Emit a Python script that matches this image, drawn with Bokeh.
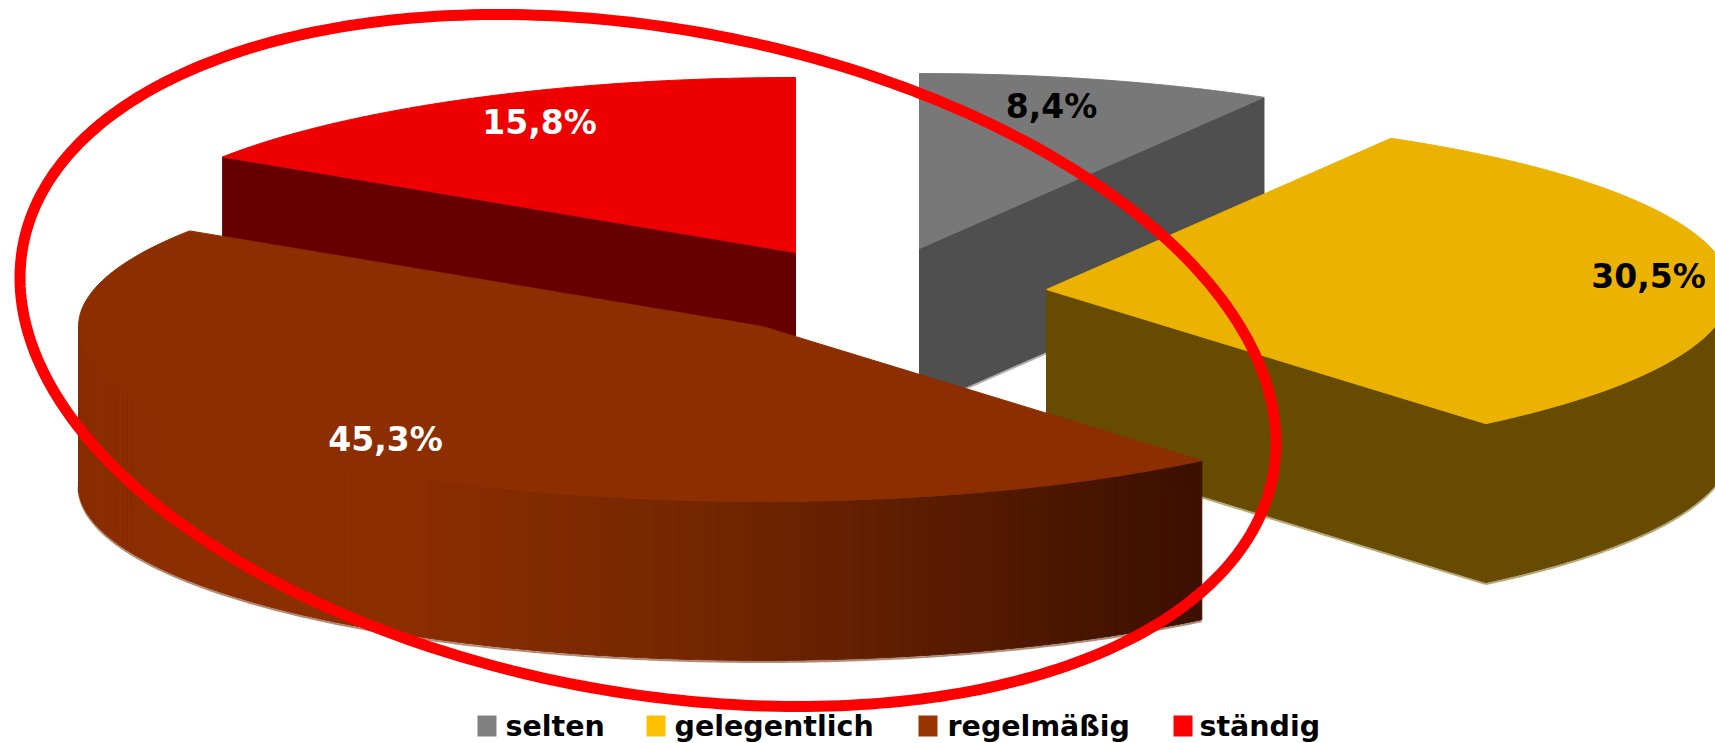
import numpy as np
from bokeh.plotting import figure
from bokeh.models import Range1d
from bokeh.core.properties import value
from bokeh.embed import file_html
from bokeh.resources import INLINE

# --- data ---
CATEGORIES = ["selten", "gelegentlich", "regelmäßig", "ständig"]
VALUES = [8.4, 30.5, 45.3, 15.8]
LABELS = ["8,4%", "30,5%", "45,3%", "15,8%"]
LEGEND_COLORS = ["#808080", "#FFC000", "#993300", "#FF0000"]
TOP_COLORS = ["#787878", "#ECB200", "#8C2E00", "#EE0000"]
SIDE_COLORS = ["#4F4F4F", "#664B00", "#8C2E00", "#660000"]
EDGE_COLORS = ["#B0B0B0", "#B8A878", "#B08C78", "#660000"]
LABEL_COLORS = ["black", "black", "white", "white"]

# --- layout (reference pixels) ---
W, H = 1715, 743
A, B, DEPTH = 684, 175, 159
CENTERS = [(919, 248), (1046, 289), (762, 326), (795, 252)]
LABEL_POS = [(1051, 106), (1648, 276), (385, 439), (539, 122)]
LEGEND_SWATCH_X = [477, 646, 918, 1173]
LEGEND_TEXT_X = [505, 674, 947, 1199]
FONT = "DejaVu Sans"

p = figure(width=W, height=H, output_backend="svg", toolbar_location=None,
           x_range=Range1d(0, W), y_range=Range1d(H, 0), min_border=0,
           outline_line_color=None, background_fill_color="white")
p.axis.visible = False
p.grid.visible = False

fractions = np.array(VALUES) / 100.0
ends = np.cumsum(fractions) * 2 * np.pi
starts = ends - fractions * 2 * np.pi
ends[-1] = 2 * np.pi


def arc(i, t0, t1, n=120):
    t = np.linspace(t0, t1, n)
    cx, cy = CENTERS[i]
    return cx + A * np.sin(t), cy - B * np.cos(t)


def point(i, t):
    cx, cy = CENTERS[i]
    return cx + A * np.sin(t), cy - B * np.cos(t)


def top_face(i):
    x, y = arc(i, starts[i], ends[i])
    cx, cy = CENTERS[i]
    p.patch(np.r_[cx, x], np.r_[cy, y], fill_color=TOP_COLORS[i], line_color=TOP_COLORS[i], line_width=1)


def cut_face(i, t):
    cx, cy = CENTERS[i]
    x1, y1 = point(i, t)
    p.line([cx, x1], [cy + DEPTH + 1.5, y1 + DEPTH + 1.5], line_color=EDGE_COLORS[i], line_width=2)
    p.patch([cx, x1, x1, cx], [cy, y1, y1 + DEPTH, cy + DEPTH],
            fill_color=SIDE_COLORS[i], line_color=SIDE_COLORS[i], line_width=1)


def outer_wall(i, t0, t1):
    x, y = arc(i, t0, t1)
    p.line(x, y + DEPTH + 1.5, line_color=EDGE_COLORS[i], line_width=2)
    p.patch(np.r_[x, x[::-1]], np.r_[y, y[::-1] + DEPTH],
            fill_color=SIDE_COLORS[i], line_color=SIDE_COLORS[i], line_width=1)


def shade(tt):
    keys = [0.0, 0.06, 0.30, 0.60, 0.80, 1.0]
    r = [0x8A, 0x8C, 0x8B, 0x70, 0x55, 0x3C]
    g = [0x2D, 0x2E, 0x2E, 0x25, 0x1A, 0x10]
    return "#%02x%02x00" % (int(np.interp(tt, keys, r)), int(np.interp(tt, keys, g)))


def gradient_wall(i, t0, t1, strips=280):
    # strips of equal width in x across the visible front wall, refined at the left end
    cx, cy = CENTERS[i]
    x_nodes = np.linspace(cx + A * np.sin(t0), cx + A * np.sin(t1), strips + 1)
    t_even = np.pi - np.arcsin(np.clip((x_nodes - cx) / A, -1, 1))
    t = np.unique(np.r_[t_even, np.linspace(t1 - 0.4, t1, 50)])
    x = cx + A * np.sin(t)
    y = cy - B * np.cos(t)
    p.line(x, y + DEPTH + 1.5, line_color=EDGE_COLORS[i], line_width=2)
    xmin, xmax = x.min(), x.max()
    xs, ys, cols = [], [], []
    for k in range(len(t) - 1):
        xs.append([x[k], x[k + 1], x[k + 1], x[k]])
        ys.append([y[k], y[k + 1], y[k + 1] + DEPTH, y[k] + DEPTH])
        cols.append(shade(((x[k] + x[k + 1]) / 2 - xmin) / (xmax - xmin)))
    p.patches(xs, ys, fill_color=cols, line_color=cols, line_width=1)


# selten (back right)
cut_face(0, ends[0])
top_face(0)
# ständig (back left)
cut_face(3, starts[3])
top_face(3)
# gelegentlich
outer_wall(1, np.pi / 2, ends[1])
cut_face(1, ends[1])
top_face(1)
# regelmäßig (front)
gradient_wall(2, starts[2], 1.5 * np.pi)
top_face(2)

# highlight ring drawn over the pie
RING_CX, RING_CY, RING_W, RING_H, RING_SHEAR = 647.5, 360, 628, 346, 82.6
tt = np.linspace(0, 2 * np.pi, 360)
p.line(RING_CX + RING_W * np.cos(tt),
       RING_CY + RING_SHEAR * np.cos(tt) + np.sqrt(RING_H ** 2 - RING_SHEAR ** 2) * np.sin(tt),
       line_color="#FF0000", line_width=11, line_join="round")

# value labels
p.text([q[0] for q in LABEL_POS], [q[1] for q in LABEL_POS], text=LABELS,
       text_color=LABEL_COLORS, text_font=value(FONT), text_font_style="bold",
       text_font_size="33px", text_align="center", text_baseline="middle")

# legend
p.quad(left=LEGEND_SWATCH_X, right=[v + 19 for v in LEGEND_SWATCH_X],
       top=[715] * 4, bottom=[736] * 4, fill_color=LEGEND_COLORS, line_color=None)
p.text(LEGEND_TEXT_X, [725.5] * 4, text=CATEGORIES, text_color="black",
       text_font=value(FONT), text_font_style="bold", text_font_size="28.5px",
       text_align="left", text_baseline="middle")

open("out.html", "w").write(file_html(p, INLINE))
